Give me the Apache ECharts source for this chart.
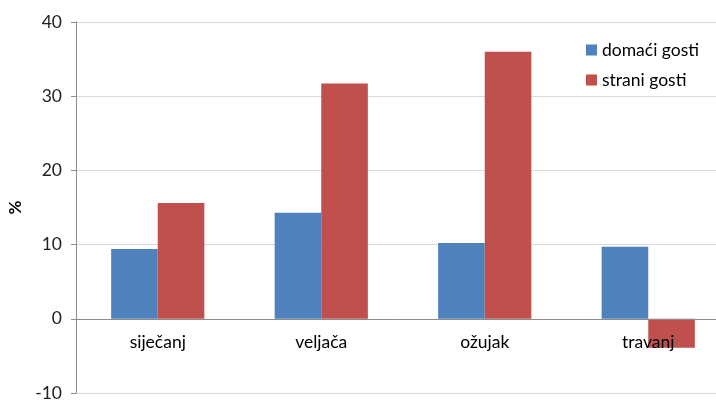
<!DOCTYPE html>
<html><head><meta charset="utf-8">
<script src="https://cdn.jsdelivr.net/npm/echarts@6/dist/echarts.min.js"></script>
<style>html,body{margin:0;padding:0;background:#fff}#c{width:716px;height:400px}</style>
</head><body><div id="c"></div>
<script>
const categories = ['siječanj', 'veljača', 'ožujak', 'travanj'];
const domaci = [9.4, 14.3, 10.2, 9.7];
const strani = [15.6, 31.7, 36.0, -3.9];
const yTicks = { min: -10, max: 40, interval: 10 };
const seriesNames = ['domaći gosti', 'strani gosti'];

const font = 'Lato';
const chart = echarts.init(document.getElementById('c'));
chart.setOption({
  animation: false,
  textStyle: { fontFamily: font },
  grid: { left: 76, right: -14, top: 22, bottom: 7, containLabel: false, outerBoundsMode: 'none' },
  legend: {
    orient: 'vertical', left: 581, top: 36, itemWidth: 11, itemHeight: 11, itemGap: 12,
    icon: 'rect',
    textStyle: { fontFamily: font, fontSize: 17.5, color: '#000' },
    data: seriesNames
  },
  xAxis: {
    type: 'category', data: categories, z: 5, position: 'bottom', offset: -74.2,
    axisLine: { onZero: false, lineStyle: { color: '#8c8c8c', width: 1 } },
    axisTick: { show: false },
    axisLabel: { fontFamily: font, fontSize: 17.5, color: '#000', margin: 15 }
  },
  yAxis: {
    type: 'value', min: yTicks.min, max: yTicks.max, interval: yTicks.interval,
    name: '%', nameLocation: 'middle', nameGap: 52, nameRotate: 90,
    nameTextStyle: { fontFamily: font, fontSize: 17, fontWeight: 'bold', color: '#000' },
    axisLine: { show: true, lineStyle: { color: '#8c8c8c' } },
    axisTick: { show: true, length: 5, lineStyle: { color: '#8c8c8c' } },
    axisLabel: { fontFamily: font, fontSize: 17.5, color: '#222', margin: 14 },
    splitLine: { lineStyle: { color: '#d9d9d9' } }
  },
  series: [
    { name: seriesNames[0], type: 'bar', data: domaci, barGap: '0%', barCategoryGap: '43%',
      itemStyle: { color: '#4F81BD' } },
    { name: seriesNames[1], type: 'bar', data: strani, barGap: '0%', barCategoryGap: '43%',
      itemStyle: { color: '#C0504D' } }
  ]
});
</script></body></html>
